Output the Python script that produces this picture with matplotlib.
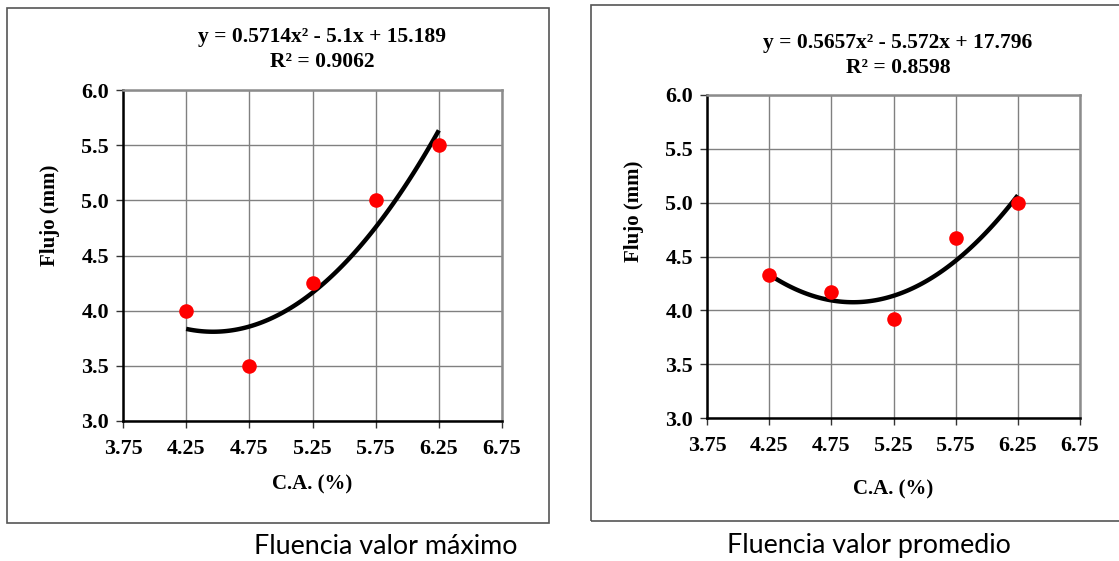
import numpy as np
import matplotlib
matplotlib.use("Agg")
import matplotlib.pyplot as plt
from matplotlib.patches import Rectangle

# -----------------------------
# DATA
# -----------------------------
ca = [4.25, 4.75, 5.25, 5.75, 6.25]
flujo_max = [4.0, 3.5, 4.25, 5.0, 5.5]
flujo_prom = [4.33, 4.17, 3.92, 4.67, 5.0]

coef_max = [0.5714, -5.1, 15.189]
coef_prom = [0.5657, -5.572, 17.796]

eq_max = ["y = 0.5714x² - 5.1x + 15.189", "R² = 0.9062"]
eq_prom = ["y = 0.5657x² - 5.572x + 17.796", "R² = 0.8598"]

captions = ["Fluencia valor máximo", "Fluencia valor promedio"]
xticks = [3.75, 4.25, 4.75, 5.25, 5.75, 6.25, 6.75]
yticks = [3.0, 3.5, 4.0, 4.5, 5.0, 5.5, 6.0]

W, H = 1119, 561
fig = plt.figure(figsize=(W / 100, H / 100), dpi=100)


def fx(x):
    return x / W


def fy(y):
    return 1 - y / H


serif = "Liberation Serif"

# outer boxes
fig.patches.append(Rectangle((fx(7), fy(523)), fx(542), 515 / H, transform=fig.transFigure,
                             fill=False, edgecolor="#555555", lw=1.2))
fig.patches.append(Rectangle((fx(591), fy(521)), fx(540), 516 / H, transform=fig.transFigure,
                             fill=False, edgecolor="#555555", lw=1.2))

panels = [
    dict(rect=(123, 90, 502, 421), y=flujo_max, coef=coef_max, eq=eq_max,
         eq_x=322, eq_y=(37, 62), ylab_xy=(50, 215), xlab_xy=(312, 484), cap_xy=(386, 547)),
    dict(rect=(707, 95, 1080, 418), y=flujo_prom, coef=coef_prom, eq=eq_prom,
         eq_x=898, eq_y=(43, 68), ylab_xy=(634, 211), xlab_xy=(893, 489), cap_xy=(869, 546)),
]

for i, p in enumerate(panels):
    x0, y0, x1, y1 = p["rect"]
    ax = fig.add_axes([fx(x0), fy(y1), (x1 - x0) / W, (y1 - y0) / H])
    ax.set_xlim(3.75, 6.75)
    ax.set_ylim(3.0, 6.0)
    ax.set_xticks(xticks)
    ax.set_yticks(yticks)
    ax.set_xticklabels([f"{t:.2f}" for t in xticks], fontfamily=serif, fontweight="bold", fontsize=15.8)
    ax.set_yticklabels([f"{t:.1f}" for t in yticks], fontfamily=serif, fontweight="bold", fontsize=15.8)
    ax.grid(True, color="#808080", lw=1)
    ax.set_axisbelow(True)
    ax.tick_params(direction="out", length=5, width=1, color="#333333")
    ax.tick_params(axis="x", pad=8)
    ax.tick_params(axis="y", pad=5)
    for s in ["left", "bottom"]:
        ax.spines[s].set_color("black")
        ax.spines[s].set_linewidth(1.8)
    for s in ["top", "right"]:
        ax.spines[s].set_color("#8c8c8c")
        ax.spines[s].set_linewidth(1.8)

    xs = np.linspace(ca[0], ca[-1], 100)
    ax.plot(xs, np.polyval(p["coef"], xs), color="black", lw=3.2, zorder=3,
            solid_capstyle="butt")
    ax.scatter(ca, p["y"], s=110, color="red", zorder=4, linewidths=0)

    for line, yy in zip(p["eq"], p["eq_y"]):
        fig.text(fx(p["eq_x"]), fy(yy), line, ha="center", va="center",
                 fontfamily=serif, fontweight="bold", fontsize=15.5)
    fig.text(fx(p["ylab_xy"][0]), fy(p["ylab_xy"][1]), "Flujo (mm)", ha="center", va="center",
             rotation=90, fontfamily=serif, fontweight="bold", fontsize=15)
    fig.text(fx(p["xlab_xy"][0]), fy(p["xlab_xy"][1]), "C.A. (%)", ha="center", va="center",
             fontfamily=serif, fontweight="bold", fontsize=15)
    fig.text(fx(p["cap_xy"][0]), fy(p["cap_xy"][1]), captions[i], ha="center", va="center",
             fontfamily="Lato", fontsize=19.4)

fig.savefig("out.png", dpi=100)
